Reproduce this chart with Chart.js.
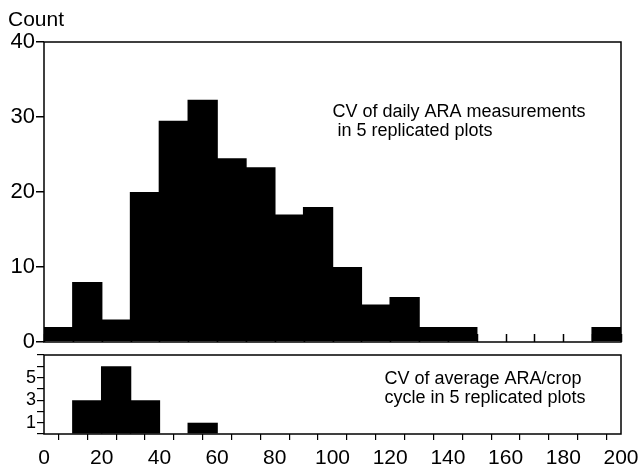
<!DOCTYPE html>
<html><head><meta charset="utf-8">
<script src="https://cdn.jsdelivr.net/npm/chart.js@4.4.1/dist/chart.umd.min.js"></script>
<style>
html,body{margin:0;padding:0;background:#fff;width:641px;height:466px;overflow:hidden}
#c1{position:absolute;left:0;top:0}
#c2{position:absolute;left:0;top:340px}
</style></head><body>
<canvas id="c1" width="641" height="360"></canvas>
<canvas id="c2" width="641" height="126"></canvas>
<script>
// ---- data ----
const binEdges = [0,10,20,30,40,50,60,70,80,90,100,110,120,130,140,150,160,170,180,190,200];
const binCenters = [5,15,25,35,45,55,65,75,85,95,105,115,125,135,145,155,165,175,185,195];
const dailyCounts = [2,8,3,20,29.5,32.3,24.5,23.3,17,18,10,5,6,2,2,0,0,0,0,2];
const cropCycleCounts = [0,3,6,3,0,1,0,0,0,0,0,0,0,0,0,0,0,0,0,0];
const topYTicks = [0,10,20,30,40];
const bottomYLabels = [1,3,5];
const bottomXLabels = [0,20,40,60,80,100,120,140,160,180,200];
const yTitle = 'Count';
const topNote = ['CV of daily ARA measurements', ' in 5 replicated plots'];
const bottomNote = ['CV of average ARA/crop', 'cycle in 5 replicated plots'];

const FONT = 'Liberation Sans, Arial, Helvetica, sans-serif';

function framePlugin(inwardTicks, notes, noteX, noteY, noteGap, showTitle) {
  return {
    id: 'frame',
    afterDraw(chart) {
      const {ctx, chartArea: a, scales} = chart;
      ctx.save();
      ctx.strokeStyle = '#000';
      ctx.lineWidth = 1.5;
      ctx.strokeRect(a.left, a.top, a.right - a.left, a.bottom - a.top);
      if (inwardTicks) {
        binEdges.forEach(v => {
          const px = Math.round(scales.x.getPixelForValue(v)) + 0.5;
          ctx.beginPath();
          ctx.moveTo(px, a.bottom);
          ctx.lineTo(px, a.bottom - 8);
          ctx.stroke();
        });
      }
      ctx.fillStyle = '#000';
      ctx.font = '18px ' + FONT;
      ctx.textAlign = 'left';
      ctx.textBaseline = 'alphabetic';
      const x0 = scales.x.getPixelForValue(noteX);
      const y0 = scales.y.getPixelForValue(noteY);
      notes.forEach((t, i) => ctx.fillText(t, x0, y0 + i * noteGap));
      if (showTitle) {
        ctx.font = '21px ' + FONT;
        ctx.fillText(yTitle, 8, 26);
      }
      ctx.restore();
    }
  };
}

const noPad = s => { s.paddingLeft = 0; s.paddingRight = 0; s.paddingTop = 0; s.paddingBottom = 0; };

new Chart(document.getElementById('c1'), {
  type: 'bar',
  data: { datasets: [{
    data: binCenters.map((x, i) => ({x, y: dailyCounts[i]})),
    backgroundColor: '#000', borderWidth: 0,
    barPercentage: 1.05, categoryPercentage: 1
  }]},
  options: {
    responsive: false, animation: false,
    plugins: { legend: {display: false}, tooltip: {enabled: false} },
    layout: { padding: {top: 42, right: 20, bottom: 18, left: 0} },
    scales: {
      x: { type: 'linear', min: 0, max: 200, offset: false,
           ticks: {display: false}, grid: {display: false, drawTicks: false},
           border: {display: false}, afterFit: s => { s.height = 0; noPad(s); } },
      y: { min: 0, max: 40, afterFit: s => { s.width = 44; noPad(s); },
           afterBuildTicks: s => { s.ticks = topYTicks.map(v => ({value: v})); },
           ticks: { color: '#000', font: {family: FONT, size: 22}, padding: 1 },
           grid: { drawOnChartArea: false, tickLength: 8, color: '#000', lineWidth: 1.5 },
           border: {display: false} }
    }
  },
  plugins: [framePlugin(true, topNote, 100, 30, 19, true)]
});

new Chart(document.getElementById('c2'), {
  type: 'bar',
  data: { datasets: [{
    data: binCenters.map((x, i) => ({x, y: cropCycleCounts[i]})),
    backgroundColor: '#000', borderWidth: 0,
    barPercentage: 1.05, categoryPercentage: 1
  }]},
  options: {
    responsive: false, animation: false,
    plugins: { legend: {display: false}, tooltip: {enabled: false} },
    layout: { padding: {top: 15, right: 20, bottom: 0, left: 0} },
    scales: {
      x: { type: 'linear', min: 0, max: 200, offset: false,
           afterBuildTicks: s => { s.ticks = binEdges.map(v => ({value: v})); },
           ticks: { color: '#000', font: {family: FONT, size: 21}, padding: 6, autoSkip: false, maxRotation: 0,
                    callback: v => bottomXLabels.includes(v) ? String(v) : '' },
           grid: { drawOnChartArea: false, tickLength: 6, color: '#000', lineWidth: 1.2 },
           border: {display: false}, afterFit: s => { s.height = 32; noPad(s); } },
      y: { min: 0, max: 7, afterFit: s => { s.width = 44; noPad(s); },
           afterBuildTicks: s => { s.ticks = [0,1,2,3,4,5,6,7].map(v => ({value: v})); },
           ticks: { color: '#000', font: {family: FONT, size: 18}, padding: 1, autoSkip: false,
                    callback: v => bottomYLabels.includes(v) ? String(v) : '' },
           grid: { drawOnChartArea: false, tickLength: 7, color: '#000', lineWidth: 1.2 },
           border: {display: false} }
    }
  },
  plugins: [framePlugin(false, bottomNote, 118, 4.45, 19, false)]
});
</script>
</body></html>
